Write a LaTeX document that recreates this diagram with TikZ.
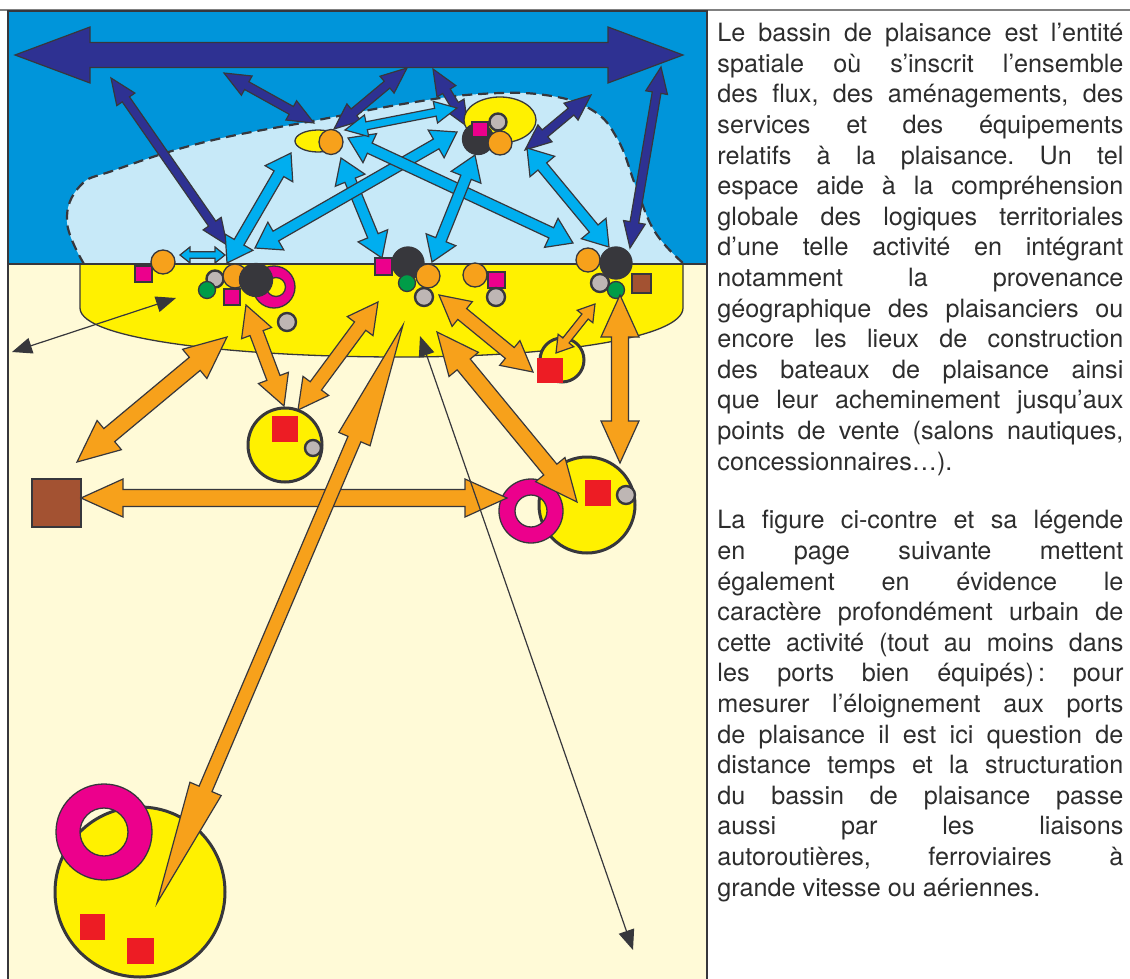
\documentclass[tikz,border=0pt]{standalone}
\usepackage{fontspec}
\setmainfont{TeX Gyre Heros}
\usetikzlibrary{calc,arrows.meta}

\definecolor{mer}{RGB}{0,149,218}
\definecolor{bassin}{RGB}{199,233,248}
\definecolor{terre}{RGB}{255,250,215}
\definecolor{jaune}{RGB}{255,241,0}
\definecolor{marine}{RGB}{46,49,146}
\definecolor{azur}{RGB}{0,174,239}
\definecolor{orangeflux}{RGB}{247,161,27}
\definecolor{anthracite}{RGB}{55,55,60}
\definecolor{grisclair}{RGB}{190,182,180}
\definecolor{vert}{RGB}{0,156,72}
\definecolor{fuchsia}{RGB}{236,0,140}
\definecolor{rouge}{RGB}{237,28,36}
\definecolor{brun}{RGB}{163,82,50}
\definecolor{trait}{RGB}{55,55,60}
\definecolor{texte}{RGB}{45,45,45}

% double block arrow: [style]{from}{to}{half shaft}{half head}{head length}
\newcommand{\flux}[6][]{%
  \coordinate (fa) at ($(#2)!#6!(#3)$);
  \coordinate (fb) at ($(#3)!#6!(#2)$);
  \filldraw[#1] (#2) -- ($(fa)!#5!-90:(#3)$) -- ($(fa)!#4!-90:(#3)$)
    -- ($(fb)!#4!90:(#2)$) -- ($(fb)!#5!90:(#2)$) -- (#3)
    -- ($(fb)!#5!-90:(#2)$) -- ($(fb)!#4!-90:(#2)$)
    -- ($(fa)!#4!90:(#3)$) -- ($(fa)!#5!90:(#3)$) -- cycle;}
\newcommand{\ligne}[1]{\makebox[203pt][s]{#1}}

\tikzset{
  fluxmer/.style={fill=marine, draw=trait, line width=0.6pt},
  fluxbassin/.style={fill=azur, draw=trait, line width=0.6pt},
  fluxterre/.style={fill=orangeflux, draw=trait, line width=0.6pt},
  liaison/.style={draw=trait, line width=0.6pt,
    {Triangle[length=10pt,width=8pt]}-{Triangle[length=10pt,width=8pt]}},
  pt/.style={draw=trait, line width=0.65pt},
  gros/.style={draw=trait, line width=1.2pt},
  ville/.style={fill=jaune, draw=trait, line width=1.5pt},
  anneau/.style={fill=fuchsia, draw=trait, line width=0.65pt, even odd rule},
  paragraphe/.style={anchor=north west, inner sep=0pt, align=left, text=texte,
    font=\fontsize{12.6}{15.3}\selectfont\frenchspacing}
}

\begin{document}
\begin{tikzpicture}[x=0.5pt, y=-0.5pt]
    \useasboundingbox (0,0) rectangle (1130,979);

    % fond de carte
    \draw[gray, line width=0.8pt] (0,10) -- (1130,10);
    \fill[mer] (8,11) rectangle (707,264);
    \fill[terre] (8,264) rectangle (707,979);
    \fill[bassin] plot[smooth, tension=0.7] coordinates {(84,264) (67,222) (80,186) (115,170) (205,142) (318,120) (409,103) (480,94) (545,95) (592,110) (618,140) (636,187) (655,232) (684,264)} -- cycle;
    \draw[trait, line width=1.1pt, dash pattern=on 5pt off 3pt] plot[smooth, tension=0.7] coordinates {(84,264) (67,222) (80,186) (115,170) (205,142) (318,120) (409,103) (480,94) (545,95) (592,110) (618,140) (636,187) (655,232) (684,264)};
    \filldraw[fill=jaune, pt] (80,264) -- (80,308) .. controls (80,340) and (240,357) .. (400,357) .. controls (560,357) and (683,337) .. (683,308) -- (683,264);
    \draw[trait, line width=0.8pt] (8,264) -- (707,264);
    \draw[trait, line width=1pt] (8,979) -- (8,11) -- (707,11) -- (707,979);

    % extremites des flux
    \coordinate (oceanG) at (15,55);
    \coordinate (oceanD) at (683,55);
    \coordinate (m1a) at (111,78);  \coordinate (m1b) at (227,245);
    \coordinate (m2a) at (224,73);  \coordinate (m2b) at (314,123);
    \coordinate (m3a) at (407,68);  \coordinate (m3b) at (334,129);
    \coordinate (m4a) at (433,69);  \coordinate (m4b) at (468,127);
    \coordinate (m5a) at (591,95);  \coordinate (m5b) at (525,150);
    \coordinate (m6a) at (661,67);  \coordinate (m6b) at (630,248);
    \coordinate (b1a) at (291,153); \coordinate (b1b) at (227,263);
    \coordinate (b2a) at (341,158); \coordinate (b2b) at (382,258);
    \coordinate (b3a) at (457,132); \coordinate (b3b) at (255,248);
    \coordinate (b4a) at (348,138); \coordinate (b4b) at (573,243);
    \coordinate (b5a) at (475,155); \coordinate (b5b) at (432,262);
    \coordinate (b6a) at (527,148); \coordinate (b6b) at (609,247);
    \coordinate (b7a) at (345,130); \coordinate (b7b) at (457,108);
    \coordinate (b8a) at (180,255); \coordinate (b8b) at (225,255);

    % flux maritimes et flux du bassin
    \flux[fluxmer]{oceanG}{oceanD}{6.25pt}{14pt}{37.5pt}
    \foreach \f in {m1,m2,m3,m4,m5,m6}
        \flux[fluxmer]{\f a}{\f b}{2.2pt}{5.5pt}{13pt};
    \foreach \f in {b1,b2,b3,b4,b5,b6}
        \flux[fluxbassin]{\f a}{\f b}{2.8pt}{8pt}{12pt};
    \flux[fluxbassin]{b7a}{b7b}{2pt}{5.5pt}{11pt}
    \flux[fluxbassin]{b8a}{b8b}{1.6pt}{4pt}{5pt}

    % mouillages
    \filldraw[fill=jaune, pt] (318,141) ellipse (23 and 11);
    \filldraw[fill=orangeflux, pt] (331,142) ellipse (12 and 12.5);
    \filldraw[fill=jaune, pt] (500,120) ellipse (36 and 23);
    \filldraw[fill=anthracite, pt] (478,139) circle (15.5);
    \filldraw[fill=grisclair, gros] (498,122) circle (8.5);
    \filldraw[fill=orangeflux, pt] (500,143) circle (12);
    \filldraw[fill=fuchsia, pt] (472,122) rectangle (488,137);

    % port ouest
    \filldraw[fill=fuchsia, pt] (135,266) rectangle (152,282);
    \filldraw[fill=orangeflux, pt] (163,262) circle (12);
    \filldraw[fill=grisclair, gros] (215,279) circle (8.5);
    \filldraw[fill=vert, pt] (207,290) circle (8.5);
    \filldraw[anneau] (274,287) circle (21) (276,287) circle (9.5);
    \filldraw[fill=orangeflux, pt] (235,276) circle (12);
    \filldraw[fill=anthracite, pt] (256,280) circle (16.5);
    \filldraw[fill=fuchsia, pt] (224,289) rectangle (240,305);
    \filldraw[fill=grisclair, gros] (287,322) circle (9);

    % port central
    \filldraw[fill=anthracite, pt] (408,263) circle (16);
    \filldraw[fill=fuchsia, pt] (375,258) rectangle (392,275);
    \filldraw[fill=vert, pt] (407,283) circle (8.5);
    \filldraw[fill=orangeflux, pt] (428,276) circle (12);
    \filldraw[fill=grisclair, gros] (424,297) circle (9);
    \filldraw[fill=orangeflux, pt] (475,275) circle (12);
    \filldraw[fill=fuchsia, pt] (488,272) rectangle (505,288);
    \filldraw[fill=grisclair, gros] (496,297) circle (9);

    % port est
    \filldraw[fill=orangeflux, pt] (588,260) circle (12);
    \filldraw[fill=anthracite, pt] (616,263) circle (16);
    \filldraw[fill=grisclair, gros] (600,283) circle (9);
    \filldraw[fill=vert, pt] (616,290) circle (8.5);
    \filldraw[fill=brun, pt] (632,274) rectangle (651,293);

    % arriere-pays
    \filldraw[ville] (562,360) circle (22);
    \filldraw[ville] (285,445) circle (37);
    \fill[rouge] (272,416) rectangle (298,442);
    \filldraw[fill=grisclair, gros] (313,448) circle (8);
    \filldraw[fill=brun, pt] (32,479) rectangle (81,527);
    \filldraw[ville] (587,505) circle (48);
    \filldraw[anneau] (531,511) circle (32) (531,511) circle (16);
    \fill[rouge] (585,480) rectangle (611,506);
    \filldraw[fill=grisclair, gros] (626,495) circle (9);
    \filldraw[ville] (140,892) circle (85);
    \filldraw[anneau] (104,832) circle (48) (104,832) circle (24);
    \fill[rouge] (80,914) rectangle (105,940);
    \fill[rouge] (127,938) rectangle (154,964);

    \coordinate (t1a) at (227,337); \coordinate (t1b) at (77,462);
    \coordinate (t2a) at (246,305); \coordinate (t2b) at (284,406);
    \coordinate (t3a) at (378,302); \coordinate (t3b) at (298,410);
    \coordinate (t4a) at (439,295); \coordinate (t4b) at (533,372);
    \coordinate (t5a) at (437,332); \coordinate (t5b) at (577,502);
    \coordinate (t6a) at (620,295); \coordinate (t6b) at (620,463);
    \coordinate (t7a) at (81,498);  \coordinate (t7b) at (507,498);
    \coordinate (t8a) at (595,304); \coordinate (t8b) at (556,353);
    \coordinate (t9a) at (403,325); \coordinate (t9b) at (157,903);
    \coordinate (l1a) at (12,352);  \coordinate (l1b) at (176,298);
    \coordinate (l2a) at (420,336); \coordinate (l2b) at (633,950);

    % flux terrestres
    \foreach \f in {t1,t5,t6,t7}
        \flux[fluxterre]{\f a}{\f b}{4.25pt}{9.5pt}{21pt};
    \foreach \f in {t2,t3,t4}
        \flux[fluxterre]{\f a}{\f b}{3.5pt}{8pt}{15pt};
    \flux[fluxterre]{t8a}{t8b}{2pt}{5pt}{8pt}
    \fill[rouge] (537,358) rectangle (563,383);
    \flux[fluxterre]{t9a}{t9b}{3.5pt}{8.5pt}{62pt}
    \draw[liaison] (l1a) -- (l1b);
    \draw[liaison] (l2a) -- (l2b);

    % texte
    \node[paragraphe] (texte1) at (717,23) {%
        \ligne{Le bassin de plaisance est l’entité}\\
        \ligne{spatiale où s’inscrit l’ensemble}\\
        \ligne{des flux, des aménagements, des}\\
        \ligne{services et des équipements}\\
        \ligne{relatifs à la plaisance. Un tel}\\
        \ligne{espace aide à la compréhension}\\
        \ligne{globale des logiques territoriales}\\
        \ligne{d’une telle activité en intégrant}\\
        \ligne{notamment la provenance}\\
        \ligne{géographique des plaisanciers ou}\\
        \ligne{encore les lieux de construction}\\
        \ligne{des bateaux de plaisance ainsi}\\
        \ligne{que leur acheminement jusqu’aux}\\
        \ligne{points de vente (salons nautiques,}\\
        concessionnaires…).};
    \node[paragraphe] (texte2) at (717,510) {%
        \ligne{La figure ci-contre et sa légende}\\
        \ligne{en page suivante mettent}\\
        \ligne{également en évidence le}\\
        \ligne{caractère profondément urbain de}\\
        \ligne{cette activité (tout au moins dans}\\
        \ligne{les ports bien équipés)\,: pour}\\
        \ligne{mesurer l’éloignement aux ports}\\
        \ligne{de plaisance il est ici question de}\\
        \ligne{distance temps et la structuration}\\
        \ligne{du bassin de plaisance passe}\\
        \ligne{aussi par les liaisons}\\
        \ligne{autoroutières, ferroviaires à}\\
        grande vitesse ou aériennes.};
\end{tikzpicture}
\end{document}
